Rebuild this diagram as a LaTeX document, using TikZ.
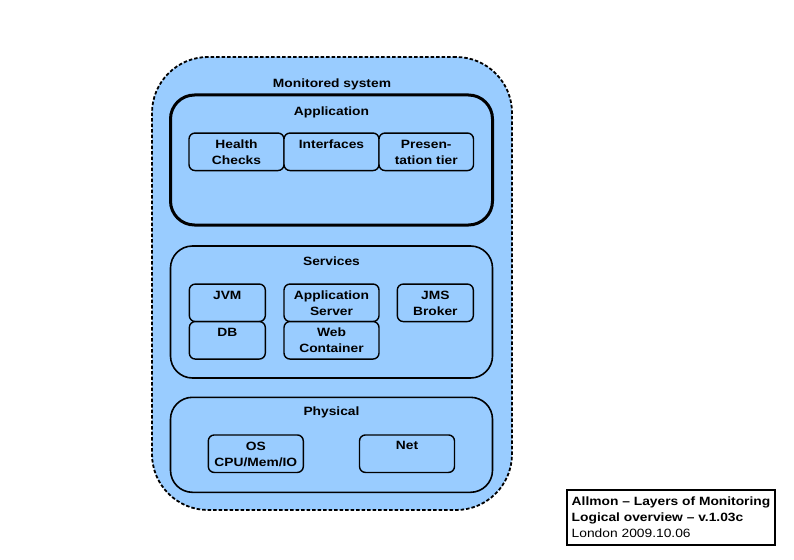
\documentclass[tikz,border=0pt]{standalone}
\usepackage{fontspec}
\setmainfont{Liberation Sans}[FakeStretch=1.15]
\usetikzlibrary{positioning}
\definecolor{sysBlue}{HTML}{99CCFF}

\begin{document}
\begin{tikzpicture}[x=1pt, y=-1pt,
      font=\fontsize{12pt}{16pt}\selectfont\bfseries,
      ttl/.style={anchor=north, inner sep=0pt, align=center},
      titled/.style 2 args={label={[ttl, label distance=#1]north:#2}},
      sysbox/.style={draw, dash pattern=on 3.5pt off 2pt, line width=1.8pt, fill=sysBlue,
        rounded corners=56pt, minimum width=360pt, minimum height=453pt},
      layerbox/.style={draw, line width=1.6pt, fill=sysBlue, rounded corners=22pt, minimum width=322pt},
      partbox/.style={draw, line width=1.4pt, fill=sysBlue, rounded corners=6pt, outer sep=0pt,
        minimum height=37.5pt, label={[ttl, label distance=-6.5pt]north:#1}},
      notebox/.style={draw, line width=1.2pt, fill=white, align=left, inner xsep=4pt,
        minimum width=208pt, minimum height=55pt, font=\fontsize{12pt}{16pt}\selectfont}
    ]
      \useasboundingbox (0,0) rectangle (794,559);

      % monitored system and its layers
      \node[sysbox, titled={-22.7pt}{Monitored system}] (sys) at (332,283.5) {};
      \node[layerbox, line width=3pt, rounded corners=24pt, minimum height=130pt,
        titled={-12.7pt}{Application}] (app) at (331.5,160) {};
      \node[layerbox, minimum height=132pt, titled={-11.7pt}{Services}] (srv) at (331.5,312) {};
      \node[layerbox, minimum height=95pt, titled={-9.7pt}{Physical}] (phy) at (331.5,444.8) {};

      % application parts
      \node[partbox={Health\\Checks}, minimum width=95pt] (health) at (236.5,151.8) {};
      \node[partbox={Interfaces}, minimum width=95pt, right=0pt of health] (iface) {};
      \node[partbox={Presen-\\tation tier}, minimum width=94.5pt, right=0pt of iface] (pres) {};

      % services parts
      \node[partbox={JVM}, minimum width=76pt] (jvm) at (227.3,302.8) {};
      \node[partbox={DB}, minimum width=76pt, below=0pt of jvm] (db) {};
      \node[partbox={Application\\Server}, minimum width=95pt] (appsrv) at (331.5,302.8) {};
      \node[partbox={Web\\Container}, minimum width=95pt, below=0pt of appsrv] (web) {};
      \node[partbox={JMS\\Broker}, minimum width=76pt] (jms) at (435.3,302.8) {};

      % physical parts
      \node[partbox={OS\\CPU/Mem/IO}, minimum width=95pt] (os) at (255.8,453.7) {};
      \node[partbox={Net}, minimum width=95pt] (net) at (407,453.7) {};

      % caption
      \node[notebox] (note) at (671,517.5)
        {\textbf{Allmon – Layers of Monitoring}\\\textbf{Logical overview – v.1.03c}\\London 2009.10.06};
    \end{tikzpicture}
\end{document}
